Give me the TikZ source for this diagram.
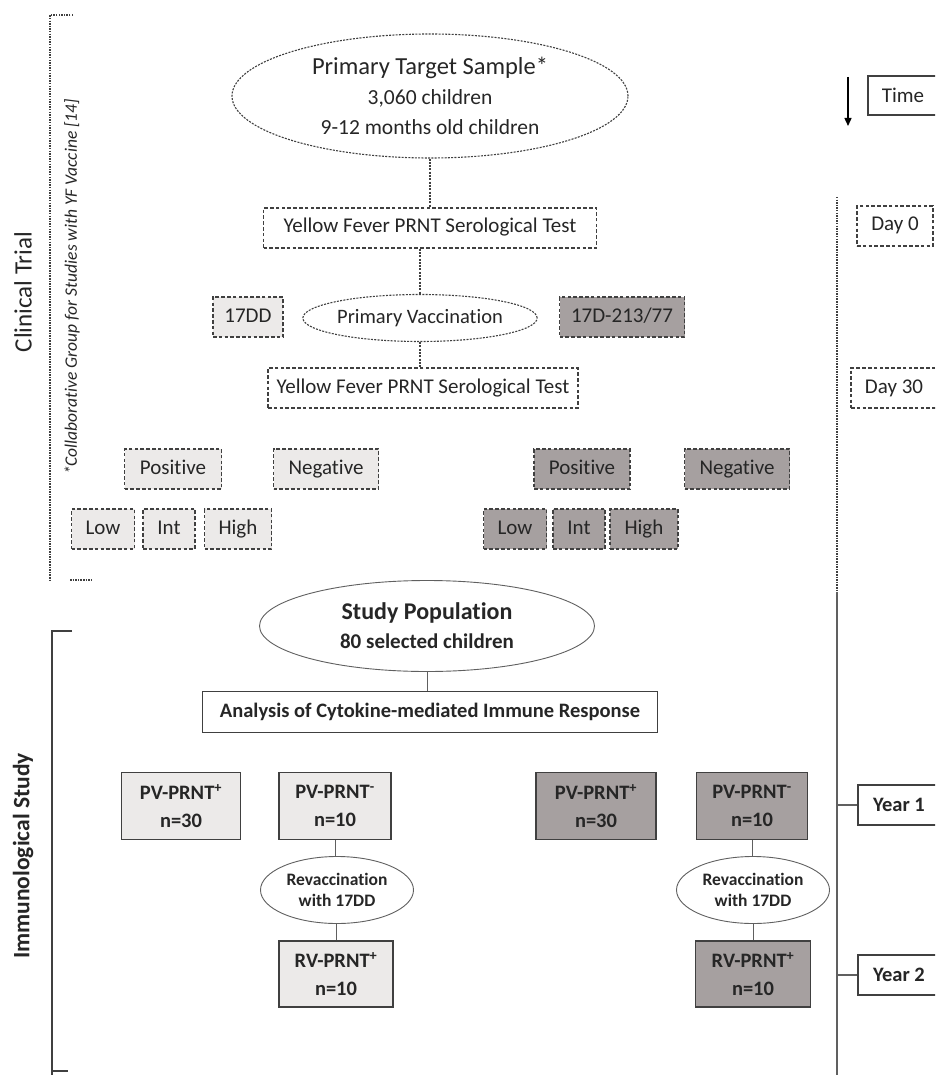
\documentclass[tikz,border=0pt]{standalone}
\usepackage{fontspec}
\setmainfont{Carlito}[Ligatures=CommonOff]
\usetikzlibrary{shapes.geometric,arrows.meta}
\definecolor{lightC}{HTML}{ECEAE9}
\definecolor{darkC}{HTML}{A6A0A0}
\definecolor{lineC}{HTML}{404040}
\definecolor{txtC}{HTML}{262626}
\definecolor{ellC}{HTML}{606060}
\begin{document}
\begin{tikzpicture}[x=1pt,y=-1pt,
  every node/.style={text=txtC},
  dbox/.style={rectangle, draw=lineC, line width=1.3pt, dash pattern=on 3.6pt off 2.2pt, inner sep=0pt, minimum height=40pt, text height=14.5pt, text depth=4.5pt, font=\fontsize{21}{24}\selectfont},
  lt/.style={fill=lightC},
  dk/.style={fill=darkC},
  dell/.style={ellipse, draw=lineC, line width=1.1pt, dash pattern=on 2pt off 1.3pt, inner sep=0pt, align=center},
  dconn/.style={draw=lineC, line width=1.1pt, dash pattern=on 2pt off 1.3pt},
  brk/.style={draw=lineC, line width=1.4pt, dash pattern=on 1.5pt off 1.1pt},
  sbox/.style={rectangle, draw=lineC, line width=1.5pt, inner sep=0pt, align=center, font=\bfseries\fontsize{20.5}{28}\selectfont},
  sell/.style={ellipse, draw=ellC, line width=0.9pt, fill=white, inner sep=0pt, align=center},
  sconn/.style={draw=ellC, line width=1pt}]
\useasboundingbox (0,0) rectangle (935,1075);
\clip (0,0) rectangle (935,1075);
\fill[white] (0,0) rectangle (935,1075);

% side labels and brackets
\node[rotate=90, font=\fontsize{25}{28}\selectfont] (ct) at (23,292) {Clinical Trial};
\node[rotate=90, font=\itshape\fontsize{17.5}{20}\selectfont] (cg) at (72,287) {*Collaborative Group for Studies with YF Vaccine [14]};
\node[rotate=90, font=\bfseries\fontsize{23.5}{28}\selectfont] (is) at (23,856) {Immunological Study};
\draw[brk] (73,15) -- (50,15) -- (50,582);
\draw[brk] (70,580) -- (93,580);
\draw[draw=lineC, line width=1.3pt] (72,631) -- (52,631) -- (52,1075);
\draw[draw=lineC, line width=1.3pt] (52,1071) -- (68,1071);

% clinical trial
\node[dell, minimum width=396pt, minimum height=124pt, font=\fontsize{21.5}{30}\selectfont] (pts) at (430,96) {{\fontsize{24.5}{30}\selectfont Primary Target Sample*}\\3,060 children\\9-12 months old children};
\node[dbox, minimum width=333pt] (yf1) at (430,228) {Yellow Fever PRNT Serological Test};
\node[dell, minimum width=212pt, minimum height=47pt, font=\fontsize{20.5}{24}\selectfont] (pv) at (420,318) {Primary Vaccination};
\node[dbox, lt, minimum width=70pt] (dd) at (248,317) {17DD};
\node[dbox, dk, minimum width=125pt] (d213) at (622,317) {17D-213/77};
\node[dbox, minimum width=310pt] (yf2) at (423,388) {Yellow Fever PRNT Serological Test};

\node[dbox, lt, minimum width=97pt] (posL) at (173,469) {Positive};
\node[dbox, lt, minimum width=105pt] (negL) at (326,469) {Negative};
\node[dbox, lt, minimum width=63pt] (lowL) at (103,529) {Low};
\node[dbox, lt, minimum width=52pt] (intL) at (169,529) {Int};
\node[dbox, lt, minimum width=67pt] (highL) at (238,529) {High};

\node[dbox, dk, minimum width=96pt] (posR) at (582,469) {Positive};
\node[dbox, dk, minimum width=105pt] (negR) at (737,469) {Negative};
\node[dbox, dk, minimum width=63pt] (lowR) at (515,529) {Low};
\node[dbox, dk, minimum width=52pt] (intR) at (579,529) {Int};
\node[dbox, dk, minimum width=68pt] (highR) at (644,529) {High};

\draw[dconn] (pts.south) -- (yf1.north);
\draw[dconn] (pv.north |- yf1.south) -- (pv.north);
\draw[dconn] (pv.south) -- (pv.south |- yf2.north);

% time axis
\node[rectangle, draw=lineC, line width=1.5pt, minimum width=70pt, minimum height=39pt, inner sep=0pt, font=\fontsize{21}{24}\selectfont] (time) at (903,95.5) {Time};
\coordinate (a0) at (848,77);
\coordinate (a1) at (848,126);
\draw[line width=1.4pt, -{Triangle[length=8pt,width=7pt]}] (a0) -- (a1);
\coordinate (t0) at (837,197);
\coordinate (t1) at (837,592);
\coordinate (t2) at (837,1075);
\draw[brk] (t0) -- (t1);
\draw[draw=ellC, line width=1.3pt] (t1) -- (t2);
\node[dbox, fill=white, minimum width=76pt] (day0) at (895,226) {Day 0};
\node[dbox, fill=white, minimum width=86pt] (day30) at (894,388) {Day 30};

% immunological study
\node[sell, minimum width=335pt, minimum height=91pt, font=\bfseries\fontsize{21}{29}\selectfont] (sp) at (427,626) {{\fontsize{24}{29}\selectfont Study Population}\\80 selected children};
\node[sbox, fill=white, minimum width=455pt, minimum height=41pt] (an) at (430,712) {Analysis of Cytokine-mediated Immune Response};
\draw[sconn] (sp.south) -- (sp.south |- an.north);

\node[sbox, lt, minimum width=119pt, minimum height=67pt] (pvpL) at (181,806) {PV-PRNT\textsuperscript{+}\\n=30};
\node[sbox, lt, minimum width=112pt, minimum height=67pt] (pvnL) at (335,806) {PV-PRNT\textsuperscript{-}\\n=10};
\node[sell, minimum width=153pt, minimum height=67pt, font=\bfseries\fontsize{17.5}{21}\selectfont] (rvL) at (337,890) {Revaccination\\with 17DD};
\node[sbox, lt, minimum width=114pt, minimum height=66pt] (rvpL) at (336,974) {RV-PRNT\textsuperscript{+}\\n=10};
\draw[sconn] (pvnL.south) -- (pvnL.south |- rvL.north);
\draw[sconn] (rvpL.north |- rvL.south) -- (rvpL.north);

\node[sbox, dk, minimum width=120pt, minimum height=67pt] (pvpR) at (596,806) {PV-PRNT\textsuperscript{+}\\n=30};
\node[sbox, dk, minimum width=111pt, minimum height=67pt] (pvnR) at (752,806) {PV-PRNT\textsuperscript{-}\\n=10};
\node[sell, minimum width=153pt, minimum height=67pt, font=\bfseries\fontsize{17.5}{21}\selectfont] (rvR) at (753,890) {Revaccination\\with 17DD};
\node[sbox, dk, minimum width=115pt, minimum height=66pt] (rvpR) at (753,974) {RV-PRNT\textsuperscript{+}\\n=10};
\draw[sconn] (pvnR.south) -- (pvnR.south |- rvR.north);
\draw[sconn] (rvpR.north |- rvR.south) -- (rvpR.north);

\node[sbox, fill=white, minimum width=82pt, minimum height=40pt] (y1) at (899,805) {Year 1};
\node[sbox, fill=white, minimum width=82pt, minimum height=40pt] (y2) at (899,975) {Year 2};
\coordinate (ty1) at (837,805);
\coordinate (ty2) at (837,975);
\draw[sconn, line width=1.3pt] (ty1) -- (y1.west);
\draw[sconn, line width=1.3pt] (ty2) -- (y2.west);
\end{tikzpicture}
\end{document}
